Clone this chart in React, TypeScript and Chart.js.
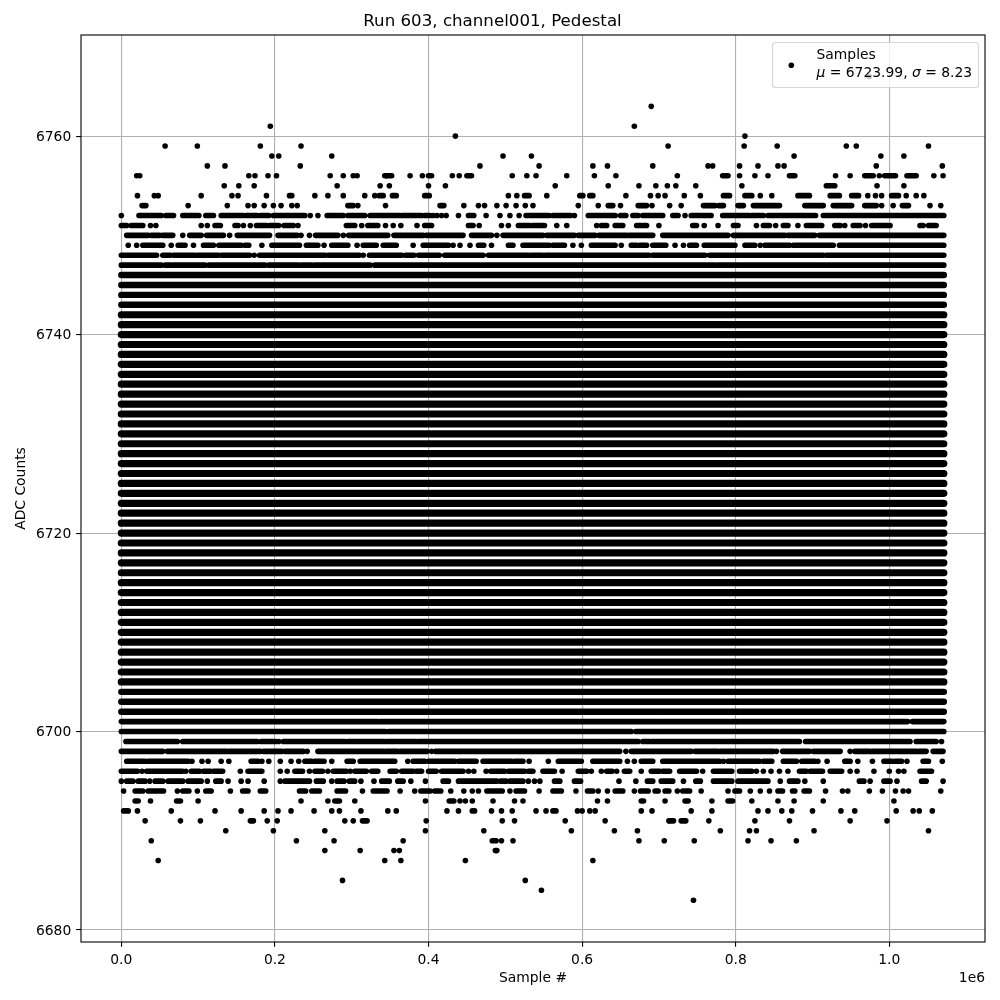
import React, { useEffect, useRef } from "react";
import { Chart, registerables } from "chart.js";

Chart.register(...registerables);

type Mark = number | [number, number];

const chartTitle = "Run 603, channel001, Pedestal";
const xTitle = "Sample #";
const yTitle = "ADC Counts";
const seriesName = "Samples";
const meanValue = "6723.99";
const sigmaValue = "8.23";
const xTicks = [0, 200000, 400000, 600000, 800000, 1000000];
const yTicks = [6680, 6700, 6720, 6740, 6760];

// ADC levels where the samples merge into an unbroken band, first to last sample (thousands of samples)
const bandSpan = [0, 1071];
const coreLevels = [6705, 6706, 6707, 6708, 6709, 6710, 6711, 6712, 6713, 6714, 6715, 6716, 6717, 6718, 6719, 6720, 6721, 6722, 6723, 6724, 6725, 6726, 6727, 6728, 6729, 6730, 6731, 6732, 6733, 6734, 6735, 6736, 6737, 6738, 6739, 6740, 6741, 6742];
const outerLevels = [6702, 6703, 6704, 6743, 6744, 6745, 6746];

// Sparse levels. A number is one sample, a pair is a run of touching samples (thousands of samples).
const r6766: Mark[] = [974];
const r6763: Mark[] = [690];
const r6761: Mark[] = [194, 668];
const r6760: Mark[] = [435, 812];
const r6759: Mark[] = [57, 99, 181, 234, 712, 811, 854, 944, 957, 1051];
const r6758: Mark[] = [196, 205, 274, 497, 534, 876, 989, 1019];
const r6757: Mark[] = [112, 135, 233, 467, 544, 614, 633, 692, 764, 770, 805, 829, 855, 863, 983, 1069];
const r6756: Mark[] = [20, 24, 166, 174, 191, 202, 272, 289, 302, 307, 345, [343, 352], 376, 392, [400, 404], 431, 440, [450, 456], 509, 528, 540, 580, 616, 644, 724, [783, 790], 805, 825, 842, [870, 877], 930, 949, [968, 979], 987, [994, 1008], [1023, 1035], 1058, 1070];
const r6755: Mark[] = [134, 153, 173, 281, 337, 349, 400, 422, 565, 634, 674, 696, 711, 722, 748, 808, [918, 929], 984, 1019];
const r6754: Mark[] = [21, 43, 48, 104, 144, 152, 189, [219, 222], 252, 269, 289, 317, 330, [336, 341], [353, 358], [395, 401], 504, 515, [525, 531], 554, [597, 601], [610, 614], 657, 689, 699, 708, 733, 754, [784, 792], [812, 821], 832, 847, [881, 896], [923, 935], [951, 960], 972, 982, 990, [1003, 1012], 1022, 1035, 1045];
const r6753: Mark[] = [[27, 32], 87, 138, 165, 173, 186, 198, 208, 222, 229, [295, 302], 308, 344, [415, 420], 446, 465, 473, 489, 501, 514, 526, 536, 595, 621, [634, 640], 650, [673, 684], 691, 714, 729, [758, 773], [778, 784], [803, 810], [823, 857], [890, 914], [927, 951], [968, 983], 990, 1005, [1017, 1025], 1053, 1067];
const r6752: Mark[] = [0, [23, 52], [58, 68], [80, 101], [110, 120], [130, 159], [163, 177], [181, 192], [198, 239], 246, 256, [268, 289], [295, 317], [324, 363], [366, 391], [395, 402], 406, 411, 417, 423, 439, [452, 459], 475, 493, 506, 518, [527, 557], [562, 585], 590, [608, 643], [650, 657], [666, 673], [679, 705], [718, 725], 734, [742, 768], [783, 818], [821, 836], [842, 904], [914, 1071]];
const r6751: Mark[] = [[0, 7], [13, 28], 38, 45, 104, 112, [122, 129], [148, 152], 159, 168, [176, 189], [193, 205], [212, 224], 230, [293, 304], 313, [321, 334], 344, 354, 364, 385, [395, 404], [452, 458], 466, 495, 504, [517, 532], [536, 551], 567, 580, 619, [625, 632], [643, 653], [671, 684], 700, [744, 749], 759, 777, [797, 803], 827, [836, 844], 852, [862, 868], 881, [892, 912], [929, 936], 942, [953, 962], 969, [977, 1001], [1040, 1044], [1051, 1061]];
const r6750: Mark[] = [[7, 35], [39, 50], [54, 67], 80, [89, 104], [111, 133], 141, [151, 193], [204, 229], 234, 245, [253, 282], 289, [296, 347], [355, 393], [397, 445], [456, 482], 489, [497, 549], [554, 590], [595, 617], [622, 658], [661, 692], [705, 790], [797, 864], [868, 903], [909, 1071]];
const r6749: Mark[] = [9, 20, [28, 54], 65, [74, 83], 94, [107, 120], [127, 156], [161, 166], 183, [196, 232], [241, 256], 264, [274, 295], 307, [315, 332], [341, 358], 380, [393, 426], 432, 441, 454, [465, 472], 482, [504, 510], [523, 557], [562, 577], 588, 599, [612, 643], 651, [664, 671], [675, 684], [692, 709], 721, 732, [740, 749], [759, 799], [812, 825], 832, [838, 870], [875, 927], [935, 1071]];
const r6748: Mark[] = [[0, 46], [54, 64], [68, 96], [99, 126], [130, 167], 173, [180, 265], [269, 310], 315, [323, 365], [370, 381], [387, 414], [421, 471], [478, 530], [533, 549], [552, 687], [692, 760], [766, 914], [918, 1071]];
const r6747: Mark[] = [[0, 52], [57, 109], [114, 187], [192, 230], [234, 248], [252, 324], [330, 773], [776, 1071]];
const r6701: Mark[] = [[0, 334], [337, 697], [699, 1024], [1030, 1071]];
const r6700: Mark[] = [[0, 77], [78, 344], [348, 608], [610, 664], [670, 703], [705, 879], [881, 1071]];
const r6699: Mark[] = [[6, 73], [80, 177], [182, 201], 205, [211, 291], [295, 343], [346, 384], [387, 599], [601, 625], [627, 673], [679, 688], [691, 788], [790, 883], [891, 1027], [1035, 1061], 1068];
const r6698: Mark[] = [[0, 54], [60, 137], [140, 181], [185, 209], [213, 237], 242, [256, 341], [344, 360], [363, 398], 404, [409, 649], 657, [664, 742], [747, 777], [780, 849], 853, [861, 896], [901, 936], 949, [955, 975], [978, 1035], [1038, 1048], [1057, 1070]];
const r6697: Mark[] = [[7, 31], [35, 87], 92, 105, 113, 130, 140, [169, 178], 183, 192, 207, 221, 231, [239, 248], [252, 261], 264, 274, [294, 302], [311, 345], [347, 356], 373, [380, 395], [400, 434], [439, 462], [471, 508], [512, 523], 531, 556, [569, 599], [614, 649], 659, 668, [677, 692], [705, 779], 784, [790, 831], [836, 847], [862, 879], [886, 903], 907, 919, [942, 949], 959, 978, [993, 1003], [1007, 1016], 1023, [1044, 1051], 1069];
const r6696: Mark[] = [[0, 21], 27, [33, 80], 84, [91, 102], [107, 116], [120, 132], 155, [165, 183], 207, 216, [226, 236], 245, [252, 262], 269, [276, 293], 298, [304, 319], [326, 334], [350, 358], [365, 380], [384, 391], [400, 410], [417, 445], 452, 459, 475, [481, 499], [504, 525], [530, 536], [549, 564], 574, [595, 606], 612, 625, [632, 639], 645, [655, 662], 677, [690, 701], [705, 714], [727, 749], 757, [771, 795], [805, 821], 827, 836, 846, 857, 868, [883, 892], [897, 913], [923, 938], 949, 958, 980, 1000, 1012, 1019, [1040, 1055]];
const r6695: Mark[] = [0, [7, 15], [22, 31], 37, [44, 54], [61, 80], [87, 104], 112, [123, 130], 139, 156, 165, 186, 207, [213, 245], [254, 263], 274, [281, 290], [297, 304], 312, 329, [339, 349], [360, 367], 377, 396, [419, 426], [439, 489], [494, 501], [506, 523], 530, 538, 545, [564, 571], [590, 598], 648, 670, [685, 692], [703, 718], 732, [748, 754], [771, 795], [803, 842], 858, [870, 881], 890, 914, [961, 967], 975, [993, 1001], 1010, [1042, 1048], 1070];
const r6694: Mark[] = [3, [18, 28], [35, 55], 73, [80, 88], 99, [110, 117], 142, [158, 165], [181, 188], [232, 240], [248, 258], [281, 292], 314, [328, 346], 363, 382, [390, 402], [408, 416], 429, 446, 457, 465, [476, 496], 506, [514, 525], 544, [562, 573], 592, [607, 614], 621, 633, [643, 653], 668, [676, 686], [695, 699], [708, 713], 724, [731, 740], 755, 790, [799, 805], 819, 832, 844, [855, 861], [874, 877], [889, 896], 917, 939, 946, 974, 991, 1008, 1018, 1025, 1067];
const r6693: Mark[] = [[18, 22], 38, [72, 77], 100, 234, 269, [278, 284], 304, 396, [427, 433], 441, 448, 457, 484, 512, 523, 620, 633, [677, 680], 708, [734, 738], 769, [790, 796], 821, 855, 876, 914, 1006];
const r6692: Mark[] = [[3, 9], 21, 65, 122, 156, 186, 204, 221, 251, 274, 284, 312, 347, 358, 424, 439, [457, 460], 482, 495, 509, 540, 553, [562, 566], 594, 600, 610, 617, 677, 691, 742, 769, 829, 842, 860, 873, 900, 937, 955, 1009, 1031, 1039, 1056];
const r6691: Mark[] = [31, 77, 103, [168, 172], 190, 203, 291, 302, [314, 320], 397, 496, 512, 578, 630, 713, [714, 719], [729, 735], 765, 825, 870, 949, 997];
const r6690: Mark[] = [136, 198, 265, 396, 472, 586, 642, 672, 780, 818, 827, 902, 1051];
const r6689: Mark[] = [39, 228, 277, 367, [483, 488], 495, 510, 674, 707, 746, 816, 846, 879];
const r6688: Mark[] = [265, 311, 355, 362, [487, 489]];
const r6687: Mark[] = [48, 343, 364, 448, 614];
const r6685: Mark[] = [288, 526];
const r6684: Mark[] = [547];
const r6683: Mark[] = [745];

const sparseRows: [number, Mark[]][] = [
  [6766, r6766], [6763, r6763], [6761, r6761], [6760, r6760], [6759, r6759], [6758, r6758], [6757, r6757],
  [6756, r6756], [6755, r6755], [6754, r6754], [6753, r6753], [6752, r6752], [6751, r6751], [6750, r6750],
  [6749, r6749], [6748, r6748], [6747, r6747], [6701, r6701], [6700, r6700], [6699, r6699], [6698, r6698],
  [6697, r6697], [6696, r6696], [6695, r6695], [6694, r6694], [6693, r6693], [6692, r6692], [6691, r6691],
  [6690, r6690], [6689, r6689], [6688, r6688], [6687, r6687], [6685, r6685], [6684, r6684], [6683, r6683],
];

const FONT = '"DejaVu Sans"';
const GAP = { x: NaN, y: NaN };

function bandPoints(levels: number[]) {
  const pts: { x: number; y: number }[] = [];
  for (const y of levels) pts.push({ x: bandSpan[0] * 1000, y }, { x: bandSpan[1] * 1000, y }, GAP);
  return pts;
}

const samplePoints: { x: number; y: number }[] = [];
const runPoints: { x: number; y: number }[] = [];
for (const [y, marks] of sparseRows) {
  for (const m of marks) {
    if (typeof m === "number") samplePoints.push({ x: m * 1000, y });
    else runPoints.push({ x: m[0] * 1000, y }, { x: m[1] * 1000, y }, GAP);
  }
}

const frameAndLegend = {
  id: "frameAndLegend",
  afterDraw(chart: any) {
    const { ctx, chartArea: a } = chart;
    ctx.save();
    ctx.strokeStyle = "#000";
    ctx.lineWidth = 1.1;
    ctx.strokeRect(a.left, a.top, a.right - a.left, a.bottom - a.top);

    ctx.fillStyle = "#000";
    ctx.font = `13.89px ${FONT}`;
    ctx.textAlign = "right";
    ctx.textBaseline = "alphabetic";
    ctx.fillText("1e6", 985, 982);

    ctx.beginPath();
    ctx.roundRect(772.5, 42.5, 206, 45, 3);
    ctx.fillStyle = "rgba(255,255,255,0.8)";
    ctx.fill();
    ctx.strokeStyle = "rgba(204,204,204,0.8)";
    ctx.lineWidth = 1.1;
    ctx.stroke();

    ctx.fillStyle = "#000";
    ctx.beginPath();
    ctx.arc(791.3, 65.3, 2.8, 0, Math.PI * 2);
    ctx.fill();

    ctx.textAlign = "left";
    ctx.font = `13.89px ${FONT}`;
    ctx.fillText(seriesName, 816.5, 59);
    let x = 816.5;
    const segments: [string, boolean][] = [
      ["μ", true],
      [` = ${meanValue}, `, false],
      ["σ", true],
      [` = ${sigmaValue}`, false],
    ];
    for (const [text, italic] of segments) {
      ctx.font = `${italic ? "italic " : ""}13.89px ${FONT}`;
      ctx.fillText(text, x, 76.5);
      x += ctx.measureText(text).width;
    }
    ctx.restore();
  },
};

export default function App() {
  const ref = useRef<HTMLCanvasElement>(null);
  useEffect(() => {
    document.body.style.margin = "0";
    const common = {
      type: "scatter" as const,
      showLine: true,
      pointRadius: 0,
      borderColor: "#000",
      borderCapStyle: "round" as const,
      spanGaps: false,
    };
    const chart = new Chart(ref.current!, {
      type: "scatter",
      data: {
        datasets: [
          { ...common, label: "core", data: bandPoints(coreLevels), borderWidth: 7.2 },
          { ...common, label: "outer", data: bandPoints(outerLevels), borderWidth: 6.4 },
          { ...common, label: "runs", data: runPoints, borderWidth: 5.6 },
          {
            label: seriesName,
            data: samplePoints,
            showLine: false,
            pointRadius: 2.8,
            pointBorderWidth: 0,
            pointBackgroundColor: "#000",
            pointBorderColor: "#000",
          },
        ],
      },
      options: {
        animation: false,
        responsive: false,
        devicePixelRatio: 1,
        events: [],
        layout: { padding: { left: 0, right: 15, top: 0, bottom: 0 } },
        plugins: {
          legend: { display: false },
          tooltip: { enabled: false },
          title: {
            display: true,
            text: chartTitle,
            color: "#000",
            font: { family: FONT, size: 16.67, weight: "normal", lineHeight: 1.2 },
            padding: { top: 12, bottom: 3 },
          },
        },
        scales: {
          x: {
            type: "linear",
            min: -52500,
            max: 1124600,
            afterBuildTicks: (s: any) => {
              s.ticks = xTicks.map((value) => ({ value }));
            },
            afterFit: (s: any) => {
              s.height = 58;
            },
            grid: { color: "#b0b0b0", lineWidth: 1.1, tickColor: "#000", tickWidth: 1.1, tickLength: 4.86 },
            border: { display: false },
            ticks: {
              color: "#000",
              font: { family: FONT, size: 13.89 },
              padding: 4.86,
              maxRotation: 0,
              autoSkip: false,
              callback: (v: any) => (Number(v) / 1e6).toFixed(1),
            },
            title: {
              display: true,
              text: xTitle,
              color: "#000",
              font: { family: FONT, size: 13.89 },
              padding: { top: 0, bottom: 13 },
            },
          },
          y: {
            type: "linear",
            min: 6678.79,
            max: 6770.19,
            afterBuildTicks: (s: any) => {
              s.ticks = yTicks.map((value) => ({ value }));
            },
            afterFit: (s: any) => {
              s.width = 81;
            },
            grid: { color: "#b0b0b0", lineWidth: 1.1, tickColor: "#000", tickWidth: 1.1, tickLength: 4.86 },
            border: { display: false },
            ticks: {
              color: "#000",
              font: { family: FONT, size: 13.89 },
              padding: 4.86,
              labelOffset: 1,
              autoSkip: false,
              callback: (v: any) => String(v),
            },
            title: {
              display: true,
              text: yTitle,
              color: "#000",
              font: { family: FONT, size: 13.89 },
              padding: { top: 13, bottom: 0 },
            },
          },
        },
      },
      plugins: [frameAndLegend],
    } as any);
    return () => chart.destroy();
  }, []);
  return <canvas ref={ref} width={1000} height={1000} style={{ display: "block" }} />;
}
